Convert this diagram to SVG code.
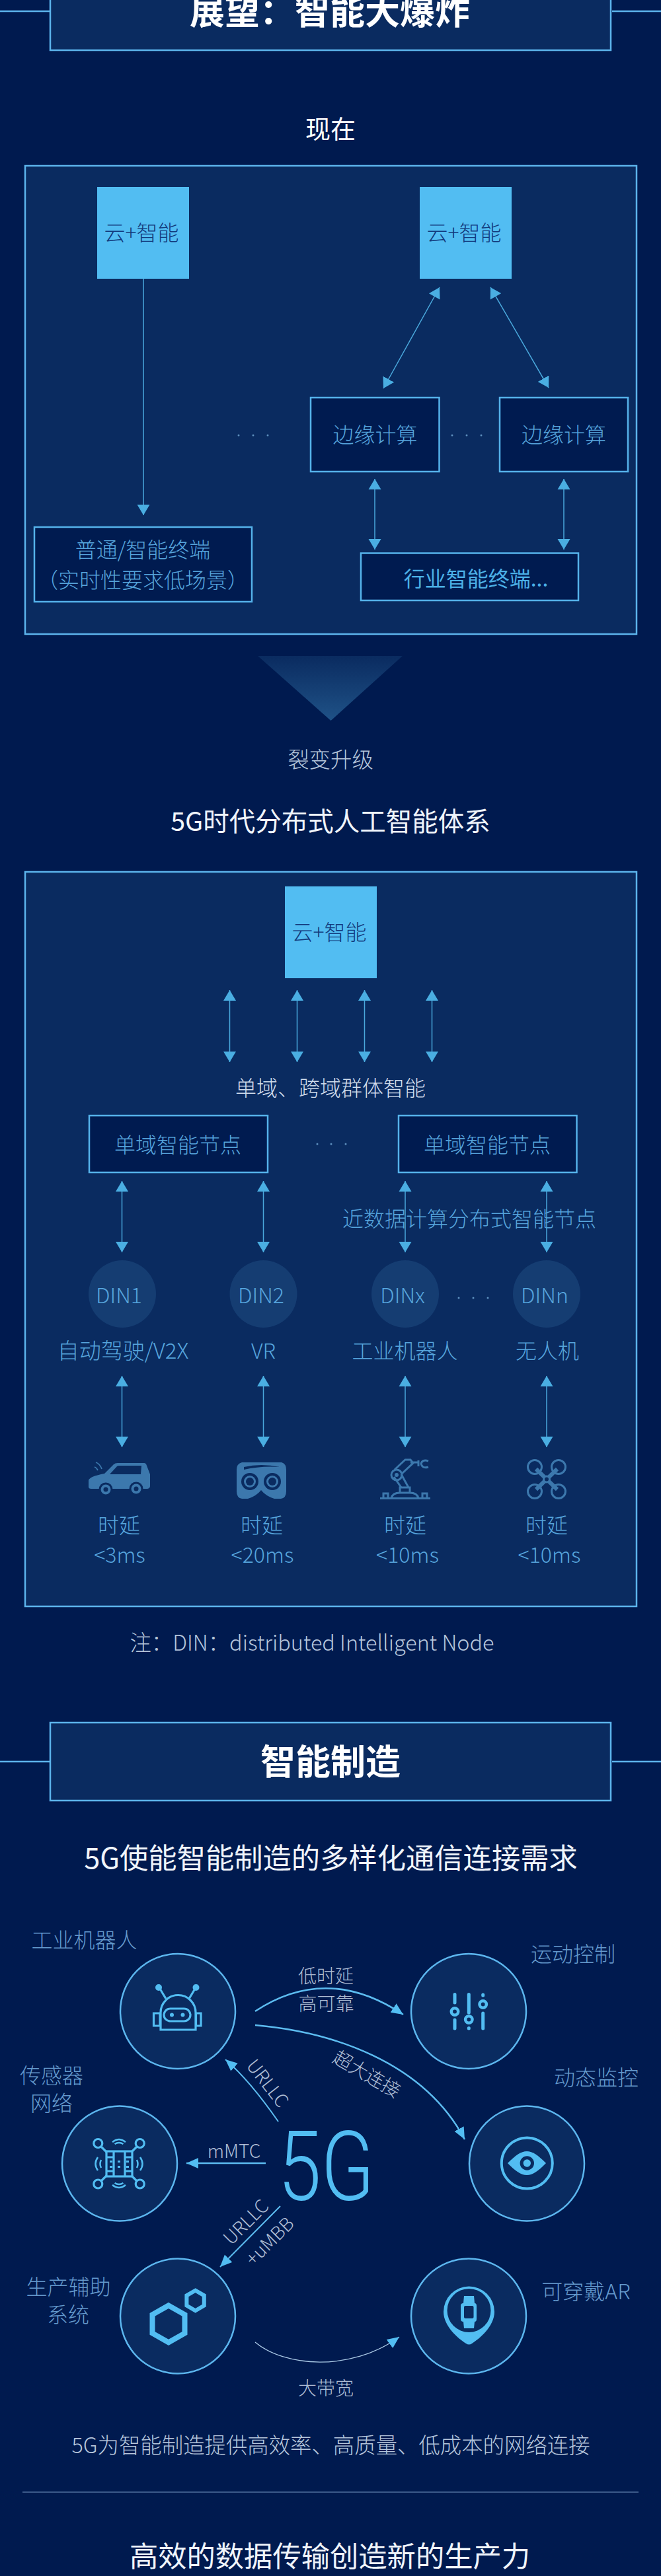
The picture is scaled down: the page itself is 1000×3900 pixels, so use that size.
<svg xmlns="http://www.w3.org/2000/svg" width="1000" height="3900" viewBox="0 0 1000 3900">
<style>
text{font-family:"Noto Sans CJK SC","Noto Sans",sans-serif;font-weight:200;text-anchor:middle}
.tt{font-size:53px;font-weight:700;fill:#fff}
.h1{font-size:43.300px;font-weight:400;fill:#f0f5fb}
.h2{font-size:38px;fill:#fff;font-weight:400}
.b{font-size:32px;fill:#56a4dc}
.w{font-size:32.400px;fill:#b6c6dc}
.l{font-size:32px;fill:#6499cc}
.g{font-size:28px;fill:#aebdd4}
.c{font-size:32px;fill:#123a7c;font-weight:300}
.panel{fill:#0a2b60;stroke:#5cb4ec;stroke-width:2.5}
.dark{fill:#001b50;stroke:#55b2ea;stroke-width:2.5}
.light{fill:#52bdf2}
.cir{fill:#0a2b60;stroke:#5cb6ee;stroke-width:2.5}
.din{fill:#153d72}
.dot{fill:#5d8fbd}
.line{stroke:#5cb4ec;stroke-width:2.5;fill:none}
.a{stroke:#4aa8dc;stroke-width:1.5;fill:none;marker-start:url(#h1r);marker-end:url(#h1)}
.a1{stroke:#4aa8dc;stroke-width:1.5;fill:none;marker-end:url(#h1)}
.c2{stroke:#5cbcf0;stroke-width:2.5;fill:none;marker-end:url(#h2)}
.c3{stroke:#a8c8e4;stroke-width:1.3;fill:none;marker-end:url(#h2)}
.ic{fill:none;stroke:#52bdf2;stroke-width:3.2}
.if{fill:#52bdf2}
.id{fill:#0a2b60}
.vs{fill:none;stroke:#3c78ad;stroke-width:3}
.vf{fill:#3c78ad}
.vd{fill:#0a2b60}
</style>
<defs>
<marker id="h1" markerUnits="userSpaceOnUse" markerWidth="17" markerHeight="20" refX="16" refY="9.5" orient="auto"><path d="M0 0L16 9.5L0 19Z" fill="#4aaee2"/></marker>
<marker id="h1r" markerUnits="userSpaceOnUse" markerWidth="17" markerHeight="20" refX="0" refY="9.5" orient="auto"><path d="M16 0L0 9.5L16 19Z" fill="#4aaee2"/></marker>
<marker id="h2" markerUnits="userSpaceOnUse" markerWidth="19" markerHeight="17" refX="18" refY="8" orient="auto"><path d="M0 0L18 8L0 16Z" fill="#52bdf2"/></marker>
<linearGradient id="tri" x1="0" y1="0" x2="0" y2="1"><stop offset="0" stop-color="#0a2b60"/><stop offset="1" stop-color="#1f5287"/></linearGradient>
</defs>
<rect width="1000" height="3900" fill="#001a4f"/>

<g id="section-title-1">
<line class="line" x1="0" y1="17" x2="75" y2="17"/><line class="line" x1="926" y1="17" x2="1000" y2="17"/>
<rect class="panel" x="76" y="-42" width="848" height="118"/>
<text class="tt" x="499" y="37">展望&#xFF1A;智能大爆炸</text>
</g>
<text class="h2" x="500" y="209">现在</text>
<rect id="panel-now" class="panel" x="38" y="251" width="925" height="709"/>
<rect id="panel-5g" class="panel" x="38" y="1320" width="925" height="1112"/>

<g id="connectors">
<line class="a1" x1="217" y1="422" x2="217" y2="780"/>
<line class="a" x1="665" y1="435" x2="580" y2="588"/>
<line class="a" x1="742" y1="435" x2="830" y2="587"/>
<line class="a" x1="567" y1="725" x2="567" y2="832"/>
<line class="a" x1="853" y1="725" x2="853" y2="832"/>
<line class="a" x1="347.500" y1="1499" x2="347.500" y2="1608"/>
<line class="a" x1="449.500" y1="1499" x2="449.500" y2="1608"/>
<line class="a" x1="551.500" y1="1499" x2="551.500" y2="1608"/>
<line class="a" x1="653.500" y1="1499" x2="653.500" y2="1608"/>
<line class="a" x1="184.500" y1="1788" x2="184.500" y2="1896"/>
<line class="a" x1="398.500" y1="1788" x2="398.500" y2="1896"/>
<line class="a" x1="613" y1="1788" x2="613" y2="1896"/>
<line class="a" x1="827" y1="1788" x2="827" y2="1896"/>
<line class="a" x1="184.500" y1="2083" x2="184.500" y2="2191"/>
<line class="a" x1="398.500" y1="2083" x2="398.500" y2="2191"/>
<line class="a" x1="613" y1="2083" x2="613" y2="2191"/>
<line class="a" x1="827" y1="2083" x2="827" y2="2191"/>
<path class="c2" d="M386 3045Q495 2973 610 3050"/>
<path class="c2" d="M386 3066C500 3076 640 3120 703 3239"/>
<path class="c2" d="M421 3212Q378 3150 341 3118" style="stroke-width:2"/>
<path class="c2" d="M402 3275H282"/>
<path class="c2" d="M424 3340L333 3432" style="stroke-width:2"/>
<path class="c3" d="M386 3546C430 3583 530 3592 604 3538"/>
</g>

<g id="cloud-left"><rect class="light" x="147" y="283" width="139" height="139"/><text class="c" x="214" y="364">云+智能</text></g>
<g id="cloud-right"><rect class="light" x="635" y="283" width="139" height="139"/><text class="c" x="702" y="364">云+智能</text></g>
<g id="edge-1"><rect class="dark" x="470" y="602" width="194.500" height="112"/><text class="b" x="567.500" y="670">边缘计算</text></g>
<g id="edge-2"><rect class="dark" x="756" y="602" width="194" height="112"/><text class="b" x="853" y="670">边缘计算</text></g>
<g id="dots-1" class="dot"><circle cx="361" cy="659" r="1.500"/><circle cx="383" cy="659" r="1.500"/><circle cx="405" cy="659" r="1.500"/><circle cx="684" cy="659" r="1.500"/><circle cx="706" cy="659" r="1.500"/><circle cx="728" cy="659" r="1.500"/></g>
<g id="terminal"><rect class="dark" x="52" y="798" width="329" height="113"/><text class="b" x="216" y="844">普通/智能终端</text><text class="b" x="216" y="890">&#xFF08;实时性要求低场景&#xFF09;</text></g>
<g id="industry"><rect class="dark" x="546" y="837.500" width="329" height="71.500"/><text x="720" y="888" style="font-size:32px;fill:#4cb0e6;font-weight:400">行业智能终端...</text></g>
<polygon id="upgrade" points="390,993 609,993 500.500,1091" fill="url(#tri)"/>
<text class="w" x="500" y="1162">裂变升级</text>
<text class="h1" x="500" y="1258" style="font-size:39.500px">5G时代分布式人工智能体系</text>

<g id="cloud-top"><rect class="light" x="431" y="1342" width="139" height="139"/><text class="c" x="498" y="1423">云+智能</text></g>
<text x="500" y="1659" style="font-size:32px;fill:#d0dcec">单域、跨域群体智能</text>
<g id="domain-1"><rect class="dark" x="135" y="1689" width="270" height="86"/><text class="b" x="269" y="1745">单域智能节点</text></g>
<g id="domain-2"><rect class="dark" x="603" y="1689" width="269.500" height="86"/><text class="b" x="737" y="1745">单域智能节点</text></g>
<g class="dot"><circle cx="480" cy="1732" r="1.500"/><circle cx="501" cy="1732" r="1.500"/><circle cx="523" cy="1732" r="1.500"/><circle cx="694" cy="1965" r="1.500"/><circle cx="716" cy="1965" r="1.500"/><circle cx="738" cy="1965" r="1.500"/></g>
<text class="b" x="710" y="1857">近数据计算分布式智能节点</text>

<g id="din-1"><circle class="din" cx="185" cy="1959" r="51"/><text class="b" x="180" y="1973">DIN1</text></g>
<g id="din-2"><circle class="din" cx="398.500" cy="1959" r="51"/><text class="b" x="395" y="1973">DIN2</text></g>
<g id="din-x"><circle class="din" cx="613" cy="1959" r="51"/><text class="b" x="609" y="1973">DINx</text></g>
<g id="din-n"><circle class="din" cx="827" cy="1959" r="51"/><text class="b" x="824" y="1973">DINn</text></g>
<text class="b" x="186" y="2057" style="font-size:33px">自动驾驶/V2X</text>
<text class="b" x="398.500" y="2057">VR</text>
<text class="b" x="612.500" y="2057">工业机器人</text>
<text class="b" x="828" y="2057">无人机</text>

<g id="icon-car">
<path class="vf" d="M134 2241Q136 2235 158 2231L172 2217Q174 2215 178 2215H218Q221 2215 222 2219L227 2232V2250Q227 2253 223 2254H138Q134 2254 134 2251Z"/>
<path class="vd" d="M166 2232L177 2220Q178 2219 181 2219H214L213 2232Z"/>
<circle class="vd" cx="160" cy="2255" r="10.500"/><circle class="vf" cx="160" cy="2255" r="7.500"/><circle class="vd" cx="160" cy="2255" r="3.500"/>
<circle class="vd" cx="206" cy="2254" r="10.500"/><circle class="vf" cx="206" cy="2254" r="7.500"/><circle class="vd" cx="206" cy="2254" r="3.500"/>
<path class="vs" style="stroke-width:1.800" d="M143 2221Q146 2222 148 2226M145 2214Q151 2216 154 2224"/>
</g>
<g id="icon-vr">
<path class="vf" d="M366 2214H426Q433 2216 433 2225V2258Q433 2268 425 2269H415Q402 2265 395 2256Q388 2265 375 2269H366Q358 2268 358 2258V2225Q358 2216 366 2214Z"/>
<path class="vd" d="M369 2221Q395 2215 423 2221Q395 2219 369 2225Z"/>
<circle class="vd" cx="378" cy="2243" r="13"/><circle class="vf" cx="378" cy="2243" r="9"/><circle class="vd" cx="378" cy="2243" r="6"/>
<circle class="vd" cx="412" cy="2243" r="13"/><circle class="vf" cx="412" cy="2243" r="9"/><circle class="vd" cx="412" cy="2243" r="6"/>
</g>
<g id="icon-arm" class="vs">
<path d="M575 2268.500H651M580 2268V2261H587V2268M639 2268V2261H646V2268M592 2268Q594 2260 605 2260H620Q631 2260 633 2268M605 2260V2252H620V2260"/>
<path d="M607 2252L596 2236M618 2252L607 2232"/>
<circle cx="600" cy="2233" r="8"/><circle cx="600" cy="2233" r="1.500"/>
<path d="M597 2225L613 2210H621L625 2215L608 2231M621 2214H633M633 2211V2220"/>
<path d="M648 2212Q639 2209 637 2216Q639 2224 648 2221"/>
</g>
<g id="icon-drone" class="vs" style="stroke-width:3">
<circle cx="809" cy="2221" r="10.500"/><circle cx="845" cy="2221" r="10.500"/><circle cx="809" cy="2258" r="10.500"/><circle cx="845" cy="2258" r="10.500"/>
<path style="stroke-width:6" d="M811 2224L843 2255M843 2224L811 2255"/>
<circle class="vd" cx="827" cy="2239.500" r="4.500"/>
</g>
<text class="b" x="180" y="2321">时延</text><text class="b" x="396" y="2321">时延</text><text class="b" x="613" y="2321">时延</text><text class="b" x="827" y="2321">时延</text>
<text class="b" x="181" y="2366">&lt;3ms</text><text class="b" x="397" y="2366">&lt;20ms</text><text class="b" x="616.500" y="2366">&lt;10ms</text><text class="b" x="831" y="2366">&lt;10ms</text>
<text class="w" x="472" y="2499">注&#xFF1A;DIN&#xFF1A;distributed Intelligent Node</text>

<g id="section-title-2">
<line class="line" x1="0" y1="2667" x2="75" y2="2667"/><line class="line" x1="926" y1="2667" x2="1000" y2="2667"/>
<rect class="panel" x="76" y="2608" width="848" height="118"/>
<text class="tt" x="500" y="2687">智能制造</text>
</g>
<text class="h1" x="500.500" y="2829">5G使能智能制造的多样化通信连接需求</text>

<g id="robot">
<text class="l" x="127.500" y="2949">工业机器人</text>
<circle class="cir" cx="269" cy="3045" r="87"/>
<g class="ic"><path d="M243 3073V3047A26 26 0 0 1 296 3047V3073Z"/><rect x="248" y="3041" width="40" height="19" rx="9.500"/><path d="M232.500 3048H242V3067H232.500ZM296.500 3048H304V3067H296.500ZM251 3026L242 3011M286 3026L295 3011"/></g>
<g class="if"><circle cx="240" cy="3009" r="5"/><circle cx="296.500" cy="3009" r="5"/><circle cx="260" cy="3050.500" r="3"/><circle cx="276.500" cy="3050.500" r="3"/></g>
</g>
<g id="motion">
<text class="l" x="867" y="2970">运动控制</text>
<circle class="cir" cx="709" cy="3045" r="87"/>
<g style="fill:none;stroke:#52bdf2;stroke-width:5;stroke-linecap:round">
<path d="M688 3019.500V3032M688 3058V3071M709.300 3019.500V3047M730.700 3020V3021M730.700 3048V3071M709.300 3070.500V3071"/></g>
<g style="fill:none;stroke:#52bdf2;stroke-width:4.500"><circle cx="688" cy="3045.500" r="5.200"/><circle cx="709.300" cy="3057.500" r="5.200"/><circle cx="730.700" cy="3034.500" r="5.200"/></g>
</g>
<g id="monitor">
<text class="l" x="902" y="3157">动态监控</text>
<circle class="cir" cx="797" cy="3275.500" r="87"/>
<circle cx="797.300" cy="3275" r="38.500" style="fill:none;stroke:#52bdf2;stroke-width:4"/>
<path class="if" d="M768 3275C780 3263 788 3257 797 3257C806 3257 814 3263 826 3275C814 3287 806 3293 797 3293C788 3293 780 3287 768 3275Z"/>
<circle class="id" cx="797.300" cy="3275" r="10.700"/><circle class="if" cx="797.300" cy="3275" r="5.700"/>
</g>
<g id="sensor">
<text class="l" x="78" y="3154">传感器</text><text class="l" x="78" y="3196">网络</text>
<circle class="cir" cx="181" cy="3275.500" r="87"/>
<g class="ic"><circle cx="148.300" cy="3245" r="6.500"/><circle cx="211.700" cy="3245" r="6.500"/><circle cx="148.300" cy="3306.500" r="6.500"/><circle cx="211.700" cy="3306.500" r="6.500"/>
<path d="M153 3250L161 3258M207 3250L199 3258M153 3302L161 3294M207 3302L199 3294"/>
<rect x="161" y="3257" width="39" height="38"/>
<path d="M172 3257V3295M189 3257V3295M161 3266H172M189 3266H200M161 3287H172M189 3287H200"/>
<path d="M170 3243Q180 3235 190 3243M173.500 3246Q180 3242 186.500 3246M170 3308Q180 3316 190 3308M173.500 3305Q180 3309 186.500 3305M148 3266Q141 3276 148 3286M153 3270Q150 3276 153 3282M212 3266Q219 3276 212 3286M207 3270Q210 3276 207 3282" style="stroke-width:2.500"/></g>
<g class="if"><rect x="166" y="3271" width="4" height="3"/><rect x="178" y="3271" width="4" height="3"/><rect x="191" y="3271" width="4" height="3"/><rect x="166" y="3279" width="4" height="3"/><rect x="178" y="3279" width="4" height="3"/><rect x="191" y="3279" width="4" height="3"/></g>
</g>
<g id="assist">
<text class="l" x="103.500" y="3474">生产辅助</text><text class="l" x="103" y="3516">系统</text>
<circle class="cir" cx="269" cy="3506.500" r="87"/>
<g style="fill:none;stroke:#52bdf2"><polygon style="stroke-width:8" points="255,3490.400 279.500,3504.400 279.500,3532.400 255,3546.400 230.500,3532.400 230.500,3504.400"/><polygon style="stroke-width:6" points="295.600,3467.700 308.800,3475.300 308.800,3490.600 295.600,3498.300 282.400,3490.600 282.400,3475.300"/></g>
</g>
<g id="wearable">
<text class="l" x="886.500" y="3481">可穿戴AR</text>
<circle class="cir" cx="709" cy="3506.500" r="87"/>
<path class="if" d="M671 3500A38.500 38.500 0 0 1 748 3500C748 3522 725 3541 714 3548Q709.500 3551 705 3548C694 3541 671 3522 671 3500Z"/>
<circle class="id" cx="709.500" cy="3498" r="33"/>
<path class="if" d="M702 3476H717L718 3487Q721 3487 721 3491V3511Q721 3515 718 3515L717 3525H702L701 3515Q697 3515 697 3511V3491Q697 3487 701 3487Z"/>
<rect class="id" x="702" y="3491" width="14.500" height="19" rx="2"/>
</g>
<g id="label-5g"><text x="493.500" y="3331" textLength="146" lengthAdjust="spacingAndGlyphs" style="font-family:Roboto,sans-serif;font-size:146px;font-weight:300;fill:#52bdf2">5G</text></g>
<text class="g" x="493" y="3002">低时延</text><text class="g" x="493.500" y="3044">高可靠</text>
<text class="g" transform="translate(555 3140) rotate(30)" y="10">超大连接</text>
<text class="g" transform="translate(405 3154) rotate(52)" y="10">URLLC</text>
<text class="g" x="354" y="3267">mMTC</text>
<text class="g" transform="translate(372 3364) rotate(-45)" y="10">URLLC</text>
<text class="g" transform="translate(408 3393) rotate(-45)" y="10">+uMBB</text>
<text class="g" x="493" y="3626">大带宽</text>
<text class="w" x="500.500" y="3714">5G为智能制造提供高效率、高质量、低成本的网络连接</text>
<line x1="34" y1="3773" x2="966" y2="3773" stroke="#4f6f9c" stroke-width="1.500"/>
<text class="h1" x="499" y="3886">高效的数据传输创造新的生产力</text>
</svg>
